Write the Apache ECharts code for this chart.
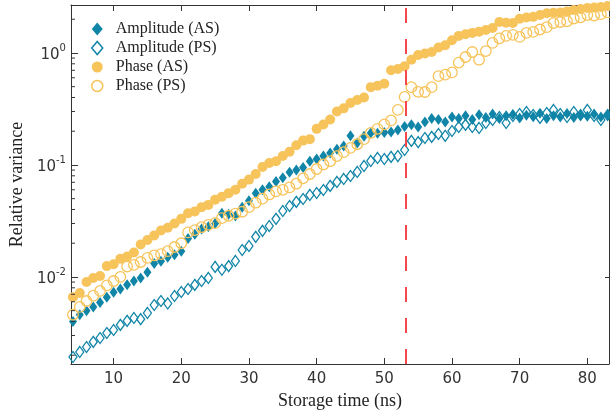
<!DOCTYPE html>
<html><head><meta charset="utf-8">
<script src="https://cdn.jsdelivr.net/npm/echarts@6/dist/echarts.min.js"></script>
<style>html,body{margin:0;padding:0;background:#fff}#c{width:610px;height:415px}</style>
</head><body><div id="c"></div>
<script>
// Storage time (ns)
const TIME_NS = [4,5,6,7,8,9,10,11,12,13,
  14,15,16,17,18,19,20,21,22,23,
  24,25,26,27,28,29,30,31,32,33,
  34,35,36,37,38,39,40,41,42,43,
  44,45,46,47,48,49,50,51,52,53,
  54,55,56,57,58,59,60,61,62,63,
  64,65,66,67,68,69,70,71,72,73,
  74,75,76,77,78,79,80,81,82,83];

const AMP_AS = [0.0040,0.0046,0.0050,0.0054,0.0059,0.0066,0.0073,0.0078,0.0085,0.0092,
  0.0098,0.0110,0.0132,0.0138,0.0150,0.0158,0.0170,0.0220,0.0240,0.0268,
  0.0280,0.0300,0.0370,0.0362,0.0350,0.0420,0.0480,0.0560,0.0600,0.0640,
  0.0710,0.0770,0.0860,0.0900,0.0950,0.1080,0.1130,0.1200,0.1280,0.1380,
  0.1480,0.1820,0.1570,0.1800,0.1930,0.1920,0.1950,0.1970,0.2050,0.2200,
  0.2280,0.2180,0.2420,0.2600,0.2550,0.2420,0.2680,0.2600,0.2750,0.2550,
  0.2800,0.2650,0.2850,0.2600,0.2750,0.2820,0.2620,0.2780,0.2700,0.2900,
  0.2600,0.2750,0.2680,0.2880,0.2650,0.2780,0.2720,0.2850,0.2680,0.2780];

const AMP_PS = [0.00193,0.00214,0.00237,0.00263,0.00285,0.00316,0.00336,0.00373,0.00405,0.0043,
  0.0042,0.00477,0.00562,0.0061,0.0058,0.00676,0.00734,0.0078,0.00849,0.0092,
  0.0098,0.0123,0.0116,0.0125,0.0139,0.0174,0.0189,0.0228,0.0258,0.0285,
  0.033,0.0388,0.043,0.0468,0.0497,0.054,0.0562,0.0598,0.065,0.0705,
  0.075,0.0797,0.0866,0.098,0.1086,0.1155,0.113,0.118,0.120,0.136,
  0.164,0.160,0.174,0.178,0.189,0.182,0.201,0.218,0.228,0.218,
  0.214,0.237,0.252,0.268,0.237,0.274,0.285,0.297,0.279,0.263,
  0.291,0.310,0.285,0.268,0.297,0.279,0.310,0.274,0.252,0.279];

const PHASE_AS = [0.0066,0.0072,0.0090,0.0098,0.0102,0.0125,0.0130,0.0145,0.0152,0.0165,
  0.0195,0.0214,0.0235,0.0260,0.0275,0.0300,0.0330,0.0370,0.0385,0.0420,
  0.0440,0.0490,0.0520,0.0560,0.0600,0.0680,0.0740,0.0830,0.0960,0.1040,
  0.1080,0.1200,0.1310,0.1500,0.1650,0.1700,0.2100,0.2300,0.2550,0.3000,
  0.3200,0.3580,0.3800,0.4000,0.4950,0.5100,0.5300,0.7000,0.7200,0.7600,
  0.87,0.96,0.99,1.02,1.12,1.17,1.30,1.42,1.47,1.51,
  1.55,1.60,1.67,1.89,1.86,1.85,2.02,2.07,2.10,2.18,
  2.26,2.28,2.30,2.35,2.42,2.47,2.52,2.55,2.57,2.62];

const PHASE_PS = [0.0046,0.0054,0.0061,0.0068,0.0075,0.0084,0.0092,0.0100,0.0124,0.0128,
  0.0136,0.0148,0.0156,0.0160,0.0170,0.0185,0.0200,0.0250,0.0262,0.0278,
  0.0292,0.0302,0.0335,0.0352,0.0368,0.0382,0.0420,0.0460,0.0500,0.0545,
  0.0580,0.0600,0.0630,0.0680,0.0760,0.0830,0.0920,0.1010,0.1080,0.1200,
  0.1300,0.1420,0.1530,0.1700,0.1930,0.2100,0.2300,0.2500,0.3100,0.4050,
  0.4950,0.4500,0.4480,0.4950,0.6200,0.6400,0.6700,0.8200,0.9200,1.02,
  0.87,1.04,1.23,1.35,1.42,1.45,1.39,1.51,1.54,1.62,
  1.70,1.85,1.89,1.92,2.03,2.08,2.18,2.16,2.22,2.30];

const SERIES_NAMES = ['Amplitude (AS)','Amplitude (PS)','Phase (AS)','Phase (PS)'];
const MINOR_TICKS = [0.002,0.003,0.004,0.005,0.006,0.007,0.008,0.009,
  0.02,0.03,0.04,0.05,0.06,0.07,0.08,0.09,
  0.2,0.3,0.4,0.5,0.6,0.7,0.8,0.9,2];
const STORAGE_LIMIT_NS = 53.1;
const X_MIN = 3.7, X_MAX = 83.2, Y_MIN = 0.00167, Y_MAX = 2.68;

const TEAL = '#1185a7', GOLD = '#f7c45c', AXIS = '#333';
const SANS = 'DejaVu Sans', SERIF = 'Liberation Serif';

const pts = arr => TIME_NS.map((t, i) => [t, arr[i]]);
const hollow = 'rgba(0,0,0,0)';

const chart = echarts.init(document.getElementById('c'), null, {renderer: 'canvas'});
chart.setOption({
  animation: false,
  backgroundColor: '#fff',
  grid: {left: 68, right: 1, top: 5, bottom: 51},
  legend: {
    orient: 'vertical', left: 86, top: 16,
    itemWidth: 11, itemHeight: 13, itemGap: 3,
    textStyle: {fontFamily: SERIF, fontSize: 16, color: '#222', lineHeight: 16, padding: [0,0,0,8]},
    data: [
      {name: SERIES_NAMES[0], icon: 'diamond', itemStyle: {color: TEAL, borderWidth: 0}},
      {name: SERIES_NAMES[1], icon: 'diamond', itemStyle: {color: hollow, borderColor: TEAL, borderWidth: 1.5}},
      {name: SERIES_NAMES[2], icon: 'circle', itemStyle: {color: GOLD, borderWidth: 0}},
      {name: SERIES_NAMES[3], icon: 'circle', itemStyle: {color: hollow, borderColor: GOLD, borderWidth: 1.5}}
    ]
  },
  xAxis: [{
    type: 'value', min: X_MIN, max: X_MAX, splitNumber: 8,
    name: 'Storage time (ns)', nameLocation: 'middle', nameGap: 27,
    nameTextStyle: {fontFamily: SERIF, fontSize: 18, color: '#222'},
    axisLine: {lineStyle: {color: AXIS, width: 1}},
    axisTick: {inside: true, length: 6, lineStyle: {color: AXIS}},
    axisLabel: {showMinLabel: false, showMaxLabel: false, color: AXIS, fontFamily: SANS, fontSize: 15, margin: 8},
    splitLine: {show: false}
  }, {
    type: 'value', position: 'top', min: X_MIN, max: X_MAX, splitNumber: 8,
    axisLine: {lineStyle: {color: AXIS, width: 1}},
    axisTick: {inside: true, length: 6, lineStyle: {color: AXIS}},
    axisLabel: {show: false}, splitLine: {show: false}
  }],
  yAxis: [{
    type: 'log', logBase: 10, min: Y_MIN, max: Y_MAX,
    name: 'Relative variance', nameLocation: 'middle', nameGap: 40,
    nameTextStyle: {fontFamily: SERIF, fontSize: 18, color: '#222'},
    axisLine: {lineStyle: {color: AXIS, width: 1}},
    axisTick: {inside: true, length: 7, lineStyle: {color: AXIS}},
    axisLabel: {
      showMinLabel: false, showMaxLabel: false, margin: 5,
      formatter: v => '{b|10}{s|' + Math.round(Math.log10(v)) + '}',
      rich: {
        b: {fontFamily: SANS, fontSize: 15, color: AXIS, lineHeight: 20, verticalAlign: 'bottom'},
        s: {fontFamily: SANS, fontSize: 10, color: AXIS, lineHeight: 20, verticalAlign: 'top'}
      }
    },
    splitLine: {show: false}
  }, {
    type: 'log', logBase: 10, min: Y_MIN, max: Y_MAX, position: 'right',
    axisLine: {lineStyle: {color: AXIS, width: 1}},
    axisTick: {inside: true, length: 4, lineStyle: {color: AXIS}},
    axisLabel: {show: false}, splitLine: {show: false}
  }],
  series: [
    {name: SERIES_NAMES[0], type: 'scatter', symbol: 'diamond', symbolSize: [8, 11],
     itemStyle: {color: TEAL, opacity: 1}, data: pts(AMP_AS)},
    {name: SERIES_NAMES[1], type: 'scatter', symbol: 'diamond', symbolSize: [8, 11],
     itemStyle: {color: hollow, borderColor: TEAL, borderWidth: 1.3, opacity: 1}, data: pts(AMP_PS)},
    {name: SERIES_NAMES[2], type: 'scatter', symbol: 'circle', symbolSize: 10,
     itemStyle: {color: GOLD, opacity: 1}, data: pts(PHASE_AS)},
    {name: SERIES_NAMES[3], type: 'scatter', symbol: 'circle', symbolSize: 10.5,
     itemStyle: {color: hollow, borderColor: GOLD, borderWidth: 1.3, opacity: 1}, data: pts(PHASE_PS),
     markLine: {silent: true, symbol: 'none', label: {show: false},
       lineStyle: {color: '#f5474c', width: 2, type: [15, 16]},
       data: [{xAxis: STORAGE_LIMIT_NS}]}},
    {type: 'custom', silent: true, clip: false, z: 5,
     data: MINOR_TICKS.map(v => [X_MIN, v]),
     renderItem: (params, api) => {
       const p = api.coord([api.value(0), api.value(1)]);
       return {type: 'line', shape: {x1: p[0], y1: p[1], x2: p[0] + 4, y2: p[1]},
               style: {stroke: AXIS, lineWidth: 1}};
     }}
  ]
});
</script></body></html>
